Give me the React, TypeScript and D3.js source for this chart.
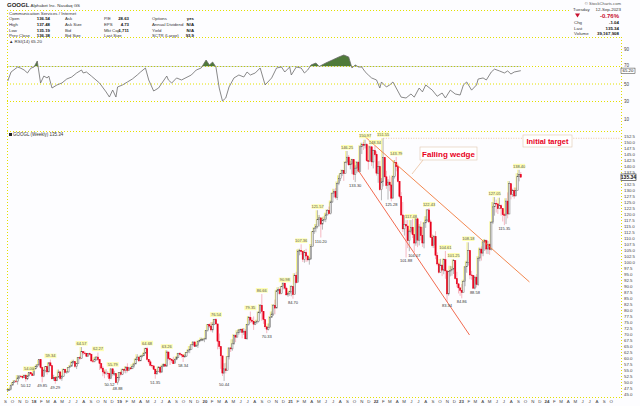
import React from 'react';
import * as d3 from 'd3';

// ---------- DATA ----------
const firstWeek = new Date(2017, 8, 11); // Monday of first weekly bar
const lastOpen = 136.54;

const closes = [
  // 2017
  46.8,46.8,48.7,49.7,50.4,50.3,51.7,52.5,52.2,51.8,52.8,51.3,52.5,53.9,53.4,52.7,
  // 2018
  55.5,56.5,57.1,59.3,56.0,52.4,54.7,56.4,54.2,58.0,
  56.8,51.3,51.9,50.5,52.0,54.2,51.5,52.4,55.2,54.0,
  54.2,56.0,56.6,58.2,58.5,56.5,57.7,60.1,59.9,62.6,
  62.1,62.0,60.7,61.8,61.6,58.8,58.6,59.3,60.4,59.3,
  57.7,55.8,54.2,53.6,53.7,53.6,51.5,55.5,53.4,53.5,
  49.7,51.9,
  // 2019
  53.9,53.2,55.3,54.9,56.2,54.8,55.9,55.5,56.5,57.5,
  59.5,60.4,58.8,60.8,60.9,62.0,63.9,59.4,58.4,57.0,
  56.7,55.3,53.4,54.3,56.2,54.1,56.6,57.3,56.6,62.5,
  59.8,59.4,59.0,57.6,59.5,60.3,62.0,61.5,61.2,60.5,
  60.8,62.2,63.3,63.6,65.5,66.7,64.8,65.2,67.0,67.4,
  67.6,67.6,
  // 2020
  68.0,71.4,73.9,73.3,71.7,74.0,76.0,74.2,67.0,64.8,
  60.9,53.7,55.5,54.7,60.5,64.2,63.8,65.9,69.4,68.7,
  70.5,71.7,71.9,70.7,71.2,68.0,74.0,77.0,75.8,75.3,
  74.1,74.7,75.2,78.9,82.0,79.4,76.0,73.0,72.0,72.8,
  77.0,78.3,82.0,80.8,88.0,88.5,86.8,89.7,91.2,89.1,
  86.3,86.8,87.6,
  // 2021
  89.8,86.4,94.5,91.4,104.4,104.8,104.4,101.1,104.0,102.5,
  100.9,101.2,106.5,112.6,114.1,114.9,117.7,118.4,115.8,117.3,
  117.8,119.6,121.5,120.1,125.0,128.7,129.5,127.0,132.8,134.7,
  136.9,138.2,136.9,141.4,143.7,140.5,140.8,142.6,136.5,139.1,
  141.6,137.8,148.0,148.9,148.7,148.9,142.2,141.9,148.0,141.7,
  146.4,144.7,
  // 2022
  137.0,139.8,130.1,133.4,143.6,135.5,131.9,133.3,132.1,126.6,
  135.7,141.5,139.7,133.6,127.3,119.6,113.8,115.7,115.0,108.9,
  112.8,114.5,111.4,107.9,118.0,109.1,114.6,111.0,107.9,116.3,
  117.5,121.7,116.7,110.3,106.8,110.6,102.8,99.2,95.7,98.7,
  96.6,101.0,96.3,86.7,96.0,96.4,97.0,100.6,93.1,90.9,
  89.2,88.2,
  // 2023
  87.3,91.9,98.0,99.9,104.8,94.6,94.4,89.1,93.7,90.6,
  101.6,105.4,103.7,108.4,108.9,105.4,107.3,105.2,116.6,123.0,
  124.4,124.2,122.2,123.5,122.3,119.7,119.5,125.4,120.0,132.6,
  128.1,129.7,127.5,129.9,135.7,136.4,135.34,
];

const highs = [
  47.1,47.6,48.8,50.0,50.8,50.6,52.9,52.7,52.6,52.4,53.1,53.4,52.8,54.0,54.2,53.5,
  55.7,56.8,57.5,59.3,59.0,56.4,55.4,56.5,56.6,58.2,
  59.34,56.9,53.0,52.3,52.5,55.2,54.5,52.9,55.6,55.5,
  54.6,56.2,57.1,58.6,59.3,58.5,57.9,60.4,60.8,64.57,
  62.9,63.0,62.0,62.0,62.2,61.6,59.3,60.3,60.7,62.27,
  59.0,57.7,56.6,55.0,55.3,54.5,53.6,55.6,55.79,54.7,
  53.7,52.0,
  54.1,54.6,55.6,55.7,56.6,57.8,56.3,56.1,57.4,58.0,
  59.9,61.6,60.4,61.0,61.4,62.3,64.3,64.68,59.6,59.2,
  57.1,57.0,55.6,54.8,56.6,56.3,56.9,57.7,57.8,63.26,
  62.6,60.0,59.8,60.5,59.7,60.8,62.1,62.4,61.8,61.4,
  61.7,62.5,63.5,65.0,65.6,66.8,66.8,65.7,67.2,67.6,
  68.5,68.3,
  68.4,71.6,74.1,74.4,75.0,74.9,76.3,76.54,73.6,70.2,
  64.5,60.4,57.8,58.0,60.8,64.4,64.6,67.8,69.9,69.8,
  71.6,72.0,72.2,72.5,72.5,72.0,74.2,77.5,79.35,76.8,
  77.3,75.5,75.9,79.5,82.5,86.66,78.3,76.0,73.0,74.4,
  77.4,79.4,82.5,84.3,88.4,89.5,89.0,90.0,91.4,90.98,
  89.7,87.3,88.0,
  90.3,90.0,95.3,95.9,105.2,105.5,107.36,104.0,105.0,105.5,
  103.0,102.0,107.5,112.8,114.5,115.8,121.57,119.6,118.0,118.5,
  119.0,120.5,122.0,123.1,125.6,128.9,130.5,130.8,133.5,136.1,
  137.0,138.5,138.3,142.0,146.25,144.6,142.2,143.0,141.3,140.3,
  142.0,142.2,148.6,149.7,150.0,150.97,149.6,148.4,148.5,148.3,
  146.8,148.34,
  146.1,142.0,142.2,135.0,151.55,143.5,138.0,134.5,136.0,135.3,
  136.0,142.5,143.79,141.0,132.8,129.1,125.0,119.5,117.4,117.5,
  113.5,117.48,118.0,109.0,118.3,118.5,115.8,117.0,114.6,116.6,
  119.1,122.0,122.43,117.6,111.5,111.2,112.8,104.0,99.8,101.3,
  98.9,101.5,104.61,96.5,96.2,98.4,98.2,101.25,100.0,95.9,
  91.2,89.5,
  90.8,92.6,98.2,100.5,108.18,105.0,96.3,94.4,94.3,95.0,
  102.4,106.0,106.5,108.6,109.6,109.3,108.7,107.8,117.0,125.0,
  127.05,126.0,124.6,126.8,124.0,122.0,120.4,126.6,129.0,133.7,
  132.5,130.5,131.0,131.0,137.0,138.40,137.48,
];

const lows = [
  46.0,46.3,46.6,48.6,49.6,49.6,48.9,51.2,51.8,51.3,51.7,50.12,50.8,52.4,53.0,52.5,
  52.6,55.2,56.0,56.9,55.5,49.85,52.0,54.0,53.1,54.1,
  56.5,51.2,50.5,49.29,50.9,52.0,50.8,50.5,52.3,53.6,
  53.4,53.9,56.0,56.4,57.6,55.9,55.4,57.7,59.2,59.8,
  61.2,61.5,60.4,60.5,61.0,58.3,57.9,58.2,58.8,58.7,
  55.0,55.2,52.4,51.6,53.0,51.9,50.52,51.2,52.4,52.6,
  49.5,48.88,
  50.6,52.6,52.9,53.8,53.6,54.0,54.6,55.0,55.5,55.9,
  57.8,59.1,58.3,59.0,60.2,60.9,62.0,58.9,57.6,56.5,
  55.9,55.1,51.35,53.0,54.2,53.5,54.0,56.2,56.3,56.4,
  59.0,57.1,58.0,57.5,57.7,59.1,60.0,61.0,60.2,58.34,
  60.0,60.5,62.0,62.0,63.9,65.0,64.6,64.8,64.2,66.5,
  67.0,67.0,
  66.6,67.6,71.0,72.5,71.0,70.6,73.7,74.0,63.6,63.7,
  55.5,52.5,50.44,53.6,54.8,59.4,62.5,63.0,65.5,66.6,
  69.0,69.7,70.6,68.2,69.6,67.8,67.6,73.5,74.6,74.5,
  71.7,73.7,74.2,74.8,78.4,75.5,74.2,72.2,70.33,71.5,
  73.0,76.7,77.5,78.2,81.4,86.6,86.2,86.6,88.6,88.5,
  86.1,85.5,85.9,
  85.7,84.70,86.3,91.0,93.0,102.8,103.0,100.0,99.7,100.0,
  100.2,98.9,101.3,106.8,111.7,112.4,114.0,114.8,110.2,113.5,
  116.8,116.6,119.5,119.8,119.8,124.7,126.9,126.3,125.8,132.0,
  133.7,135.8,133.8,137.0,141.0,140.0,138.6,136.6,134.2,133.3,
  137.0,137.4,137.9,145.0,146.7,147.3,141.8,138.5,142.3,140.0,
  139.0,144.0,
  136.0,133.0,129.7,125.7,131.5,134.8,130.5,126.0,129.5,125.28,
  126.5,134.8,137.8,133.2,126.5,119.2,112.5,111.0,101.88,105.8,
  104.5,112.0,110.0,104.07,106.8,106.2,106.9,109.0,106.3,105.7,
  114.2,116.8,116.2,110.0,106.0,105.8,101.2,98.5,95.2,96.7,
  94.1,94.9,93.0,83.34,86.0,94.0,94.3,95.0,92.7,89.5,
  86.9,85.9,
  84.86,87.9,89.9,95.5,98.5,92.8,92.6,88.9,88.58,89.4,
  90.1,100.3,100.6,102.4,104.6,103.4,103.3,103.0,104.8,115.8,
  119.3,120.6,120.0,122.0,119.3,116.9,115.35,115.8,118.2,120.0,
  126.1,127.2,126.4,127.6,130.0,133.6,135.19,
];

// RSI(14): week index and value
const rsiWeek = [0,2,6,8,10,12,14,16,18,20,22,24,25,27,30,33,36,39,42,45,46,48,51,56,60,62,64,66,67,70,73,76,79,81,84,86,89,92,97,98,100,103,106,112,115,118,121,123,125,127,129,131,133,135,138,141,144,146,148,151,154,157,161,164,167,169,172,173,176,179,181,183,185,188,190,194,198,202,205,208,210,212,214,216,218,220,222,225,227,228,231,233,235,237,240,243,246,248,251,253,255,259,262,265,267,270,273,276,278,280,283,286,287,290,292,295,297,300,303,305,307,309,313];
const rsiValue = [53.4,63.7,69.4,68,66,62.6,68,69.4,76.3,51.1,59.1,56.9,59.1,45.4,48.9,51.1,55.7,58,62.6,66,62.6,63.7,59.1,51.1,40.9,35.1,43.1,35.1,46.6,48.9,52.3,55.7,60.3,63.7,68.3,54.6,42,45.4,59.1,54.6,51.1,56.9,54.6,60.3,66,68.3,77.4,71.7,75.1,69.4,45.4,30.6,34,46.6,56.9,60.3,58,63.7,60.3,62.6,68.3,48.9,56.9,68.3,69.4,63.7,69.4,60.3,69.4,68.3,62.6,66,71.7,74,70,74,77.4,80.9,83.1,80.9,68.3,71.7,69.4,69.4,64,60.3,56.9,54.6,45.4,52.3,46.6,48.9,52.3,45.4,35,34,38.6,35,45.4,41,48.9,43,36,39.7,34,43,38.6,37.4,48.9,52.3,43,48.9,55.7,56.9,54.6,63.7,67,64.9,62.6,64.9,61.4,63.7,65.2];
const rsiLast = 65.2;

const highLabelWeeks = [13,26,45,55,64,85,97,127,148,155,169,179,189,207,218,224,229,237,246,257,267,272,281,297,312];
const lowLabelWeeks = [11,21,29,62,67,90,107,132,158,174,191,212,234,243,248,268,277,285,303];

const priceTicks = d3.range(45, 152.51, 2.5);
const rsiTicks = [90, 70, 50, 30, 10];
const rsiLevels = [70, 50, 30];
const monthLetters = ['J','F','M','A','M','J','J','A','S','O','N','D'];

// wedge lines: [date, price] endpoints
const wedgeUpper: [Date, number][] = [[new Date(2021, 10, 16), 152.1], [new Date(2023, 9, 18), 91.7]];
const wedgeLower: [Date, number][] = [[new Date(2021, 9, 16), 138.3], [new Date(2023, 1, 4), 69.6]];
const targetPrice = 151.55;
const targetStart = new Date(2022, 1, 1);

const headerRows = [
  ['Open', '136.54', 'Ask', 'P/E', '28.63', 'Options', 'yes'],
  ['High', '137.48', 'Ask Size', 'EPS', '4.73', 'Annual Dividend', 'N/A'],
  ['Low', '135.19', 'Bid', 'Mkt Cap', '1,711', 'Yield', 'N/A'],
  ['Prev Close', '136.38', 'Bid Size', 'Last Size', '', 'SCTR (Large)', '93.9'],
];

// ---------- CHART ----------
const W = 640, H = 406;
const FONT = 'Liberation Sans, Arial, sans-serif';
const YEL = '#e4e000';
const BG = '#fdfdff';

export default function App() {
  const weekDate = (i: number) => d3.timeDay.offset(firstWeek, i * 7);
  const x = d3.scaleTime().domain([new Date(2018, 0, 1), new Date(2024, 0, 1)]).range([34, 547]);
  const y = d3.scaleLinear().domain([45, 152.5]).range([394, 136]);
  const ry = d3.scaleLinear().domain([10, 90]).range([119, 49]);

  const left = 7, right = 621;

  const candles = closes.map((c, i) => {
    const o = i === closes.length - 1 ? lastOpen : i > 0 ? closes[i - 1] : c;
    const prev = i > 0 ? closes[i - 1] : c;
    return { i, o, c, h: highs[i], l: lows[i], down: c < prev, cx: x(weekDate(i)) };
  });

  const rsiPts = rsiWeek.map((w, k) => [x(weekDate(w)), ry(rsiValue[k])] as [number, number]);
  const rsiLine = d3.line()(rsiPts) || '';
  const rsiArea = d3.area<[number, number]>().x(d => d[0]).y0(ry(70)).y1(d => d[1])(rsiPts) || '';

  const months = d3.timeMonth.range(new Date(2017, 8, 1), new Date(2024, 10, 1));

  const line = (pts: [Date, number][]) => ({ x1: x(pts[0][0]), y1: y(pts[0][1]), x2: x(pts[1][0]), y2: y(pts[1][1]) });
  const wu = line(wedgeUpper), wl = line(wedgeLower);

  const lastY = y(closes[closes.length - 1]);
  const visibleTicks = priceTicks.filter(v => Math.abs(y(v) - lastY) > 4);

  return (
    <svg width={W} height={H} style={{ position: 'fixed', left: 0, top: 0, background: BG }} fontFamily={FONT}>
      <rect width={W} height={H} fill={BG} />
      <defs>
        <clipPath id="above70"><rect x={left} y={38} width={right - left} height={ry(70) - 38} /></clipPath>
      </defs>

      {/* header */}
      <text x={7} y={7} fontSize={6} fontWeight="bold" fill="#222">GOOGL</text>
      <text x={30.5} y={7} fontSize={4.4} fill="#333">Alphabet Inc.  Nasdaq GS</text>
      <line x1={left} x2={570} y1={10.5} y2={10.5} stroke={YEL} strokeDasharray="1,2" />
      <text x={9} y={14.5} fontSize={4.4} fill="#333">Communication Services / Internet</text>
      {headerRows.map((r, k) => {
        const yy = 20 + k * 5.8;
        return (
          <g key={k} fontSize={4.3} fill="#333">
            <text x={9} y={yy}>{r[0]}</text>
            <text x={50} y={yy} textAnchor="end" fontWeight="bold" fill="#111">{r[1]}</text>
            <text x={65} y={yy}>{r[2]}</text>
            <text x={104} y={yy}>{r[3]}</text>
            <text x={129} y={yy} textAnchor="end" fontWeight="bold" fill="#111">{r[4]}</text>
            <text x={152} y={yy}>{r[5]}</text>
            <text x={194} y={yy} textAnchor="end" fontWeight="bold" fill="#111">{r[6]}</text>
          </g>
        );
      })}
      <text x={621} y={5} fontSize={4.2} textAnchor="end" fill="#555">© StockCharts.com</text>
      <text x={573} y={11} fontSize={4.4} fill="#333">Tuesday</text>
      <text x={621} y={11} fontSize={4.4} textAnchor="end" fill="#333">12-Sep-2023</text>
      <path d="M575,13.5 L580,13.5 L577.5,17.5 Z" fill="#c8102e" />
      <text x={619} y={17.5} fontSize={6} textAnchor="end" fontWeight="bold" fill="#c8102e">-0.76%</text>
      <text x={574} y={24} fontSize={4.4} fill="#333">Chg</text>
      <text x={619} y={24} fontSize={4.4} textAnchor="end" fontWeight="bold" fill="#111">-1.04</text>
      <text x={574} y={29.5} fontSize={4.4} fill="#333">Last</text>
      <text x={619} y={29.5} fontSize={4.4} textAnchor="end" fontWeight="bold" fill="#111">135.34</text>
      <text x={574} y={35} fontSize={4.4} fill="#333">Volume</text>
      <text x={619} y={35} fontSize={4.4} textAnchor="end" fontWeight="bold" fill="#111">39,167,908</text>

      {/* panel frames */}
      <line x1={left} x2={right} y1={37.5} y2={37.5} stroke={YEL} strokeDasharray="1,2" />
      <line x1={left} x2={right} y1={131.5} y2={131.5} stroke={YEL} strokeDasharray="1,2" />
      <line x1={left} x2={right} y1={397.5} y2={397.5} stroke={YEL} strokeDasharray="1,2" />
      <line x1={left + 0.5} x2={left + 0.5} y1={10} y2={398} stroke={YEL} strokeDasharray="1,2" />
      <line x1={right + 0.5} x2={right + 0.5} y1={37} y2={398} stroke={YEL} strokeDasharray="1,2" />

      {/* RSI panel */}
      <text x={9} y={42.5} fontSize={4.4} fill="#333">▲ RSI(14) 65.20</text>
      {rsiLevels.map(v => (
        <line key={v} x1={left} x2={right} y1={ry(v)} y2={ry(v)} stroke={YEL} strokeDasharray="1,2" />
      ))}
      {rsiTicks.map(v => (
        <text key={v} x={624} y={ry(v) + (v === 70 ? 0 : 1.7)} fontSize={4.5} fill="#444">{v}</text>
      ))}
      <path d={rsiArea} fill="#4f7a3a" clipPath="url(#above70)" />
      <path d={rsiLine} fill="none" stroke="#6b6b6b" strokeWidth={0.8} />
      <rect x={621} y={ry(rsiLast) - 2.6} width={14} height={5.4} fill="#fff" stroke="#333" strokeWidth={0.5} />
      <text x={628} y={ry(rsiLast) + 1.6} fontSize={4.3} textAnchor="middle" fill="#111">65.20</text>

      {/* price panel */}
      <rect x={9} y={133} width={3} height={3} fill="#222" />
      <text x={13} y={136} fontSize={4.5} fill="#333">GOOGL (Weekly) 135.34</text>
      {visibleTicks.map(v => (
        <text key={v} x={624} y={y(v) + 1.6} fontSize={4.4} fill="#444">{v.toFixed(1)}</text>
      ))}
      <rect x={621} y={lastY - 3.2} width={15} height={6.4} fill="#fff" stroke="#222" strokeWidth={0.6} />
      <text x={628.5} y={lastY + 1.8} fontSize={5} textAnchor="middle" fontWeight="bold" fill="#111">135.34</text>

      {/* target line */}
      <line x1={x(targetStart)} x2={right} y1={y(targetPrice)} y2={y(targetPrice)} stroke="#e8b890" strokeDasharray="1,1.5" strokeWidth={0.8} />

      {/* yellow highlight along rising bars */}
      {candles.filter(d => !d.down).map(d => (
        <line key={'g' + d.i} x1={d.cx - 1.3} x2={d.cx - 1.3} y1={y(d.h)} y2={y(d.o)} stroke="#f2ee30" strokeWidth={1.1} opacity={0.55} />
      ))}

      {/* candles */}
      {candles.map(d => {
        const col = d.down ? '#e8001c' : '#555';
        const top = y(Math.max(d.o, d.c)), bot = y(Math.min(d.o, d.c));
        return (
          <g key={d.i}>
            <line x1={d.cx} x2={d.cx} y1={y(d.h)} y2={y(d.l)} stroke={d.down ? '#f08a98' : '#8a8a8a'} strokeWidth={0.6} />
            <rect x={d.cx - 0.65} y={top} width={1.3} height={Math.max(0.6, bot - top)} fill={d.c < d.o ? col : BG} stroke={col} strokeWidth={0.45} />
          </g>
        );
      })}

      {/* wedge */}
      <line {...wu} stroke="#f07a3c" strokeWidth={0.9} />
      <line {...wl} stroke="#f05a3c" strokeWidth={0.9} />

      {/* price labels */}
      {highLabelWeeks.map(w => (
        <g key={'h' + w}>
          <rect x={x(weekDate(w)) - 6} y={y(highs[w]) - 6} width={12} height={4.6} fill="#ffff80" opacity={0.6} />
          <text x={x(weekDate(w))} y={y(highs[w]) - 2.2} fontSize={4} textAnchor="middle" fill="#555">{highs[w].toFixed(2)}</text>
        </g>
      ))}
      {lowLabelWeeks.map(w => (
        <text key={'l' + w} x={x(weekDate(w))} y={y(lows[w]) + 5} fontSize={4} textAnchor="middle" fill="#333">{lows[w].toFixed(2)}</text>
      ))}

      {/* annotations */}
      <line x1={423} y1={160} x2={412} y2={174} stroke="#e8b890" strokeWidth={0.7} />
      <rect x={420} y={147} width={57} height={13} fill="#fff" stroke="#e0c8b0" strokeWidth={0.6} />
      <text x={448.5} y={156.8} fontSize={8} fontWeight="bold" textAnchor="middle" fill="#e8001c">Falling wedge</text>
      <rect x={523} y={135} width={49} height={12} fill="#fff" stroke="#e0c8b0" strokeWidth={0.6} />
      <text x={547.5} y={144} fontSize={7.4} fontWeight="bold" textAnchor="middle" fill="#e8001c">Initial target</text>

      {/* x axis */}
      {months.map((m, k) => {
        const mo = m.getMonth();
        const label = mo === 0 ? String(m.getFullYear()).slice(2) : monthLetters[mo];
        return (
          <text key={k} x={x(m)} y={403} fontSize={4.4} textAnchor="middle" fontWeight={mo === 0 ? 'bold' : 'normal'} fill="#444">{label}</text>
        );
      })}
    </svg>
  );
}
